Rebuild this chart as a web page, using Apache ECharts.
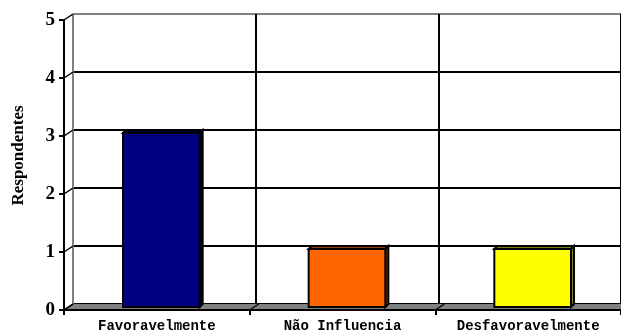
<!DOCTYPE html>
<html>
<head>
<meta charset="utf-8">
<script src="https://cdn.jsdelivr.net/npm/echarts@6/dist/echarts.min.js"></script>
<style>
  html, body { margin: 0; padding: 0; background: #fff; }
  #chart { width: 621px; height: 333px; }
</style>
</head>
<body>
<div id="chart"></div>
<script>
// Data
const categories = ['Favoravelmente', 'Não Influencia', 'Desfavoravelmente'];
const respondentes = [3, 1, 1];
const yTicks = [0, 1, 2, 3, 4, 5];

// Styling
const faceColors = ['#000080', '#FF6600', '#FFFF00'];
const sideColors = ['#000040', '#993D00', '#808000'];
const WALL = [9, -6];       // offset of the back wall from the front plane
const BAR_SHIFT = [4.5, -3]; // columns stand half-way into the floor
const BAR_DEPTH = [3, -3];   // visible thickness of each column
const BAR_RATIO = 0.413;     // column width as a share of the category band

const chart = echarts.init(document.getElementById('chart'), null, { renderer: 'canvas' });

// Floor plus the slanted ticks joining the front axes to the back wall
function renderFrame(params, api) {
  const cs = params.coordSys;
  const bandW = api.size([1, 0])[0];
  const y0 = cs.y + cs.height;
  const children = [];
  children.push({
    type: 'polygon',
    shape: { points: [
      [cs.x, y0], [cs.x + cs.width, y0],
      [cs.x + cs.width + WALL[0], y0 + WALL[1]], [cs.x + WALL[0], y0 + WALL[1]]
    ] },
    style: { fill: '#808080' }
  });
  yTicks.forEach(function (v) {
    const yv = api.coord([0, v])[1];
    children.push({
      type: 'line',
      shape: { x1: cs.x, y1: yv, x2: cs.x + WALL[0], y2: yv + WALL[1] },
      style: { stroke: '#000', lineWidth: 1.5 }
    });
  });
  for (let i = 0; i <= categories.length; i++) {
    const xb = cs.x + i * bandW;
    children.push({
      type: 'line',
      shape: { x1: xb, y1: y0, x2: xb + WALL[0], y2: y0 + WALL[1] },
      style: { stroke: '#000', lineWidth: 1.5 }
    });
  }
  return { type: 'group', children: children };
}

// Columns with a front face, a top and a right side
function renderColumn(params, api) {
  const i = api.value(0);
  const v = api.value(1);
  const top = api.coord([i, v]);
  const base = api.coord([i, 0]);
  const bw = api.size([1, 0])[0] * BAR_RATIO;
  const l = top[0] - bw / 2 + BAR_SHIFT[0];
  const r = l + bw;
  const t = top[1] + BAR_SHIFT[1];
  const b = base[1] + BAR_SHIFT[1];
  const dx = BAR_DEPTH[0], dy = BAR_DEPTH[1];
  const stroke = { stroke: '#000', lineWidth: 2, lineJoin: 'miter' };
  return {
    type: 'group',
    children: [
      { type: 'polygon', shape: { points: [[l, t], [l + dx, t + dy], [r + dx, t + dy], [r, t]] },
        style: Object.assign({ fill: sideColors[i] }, stroke) },
      { type: 'polygon', shape: { points: [[r, t], [r + dx, t + dy], [r + dx, b + dy], [r, b]] },
        style: Object.assign({ fill: sideColors[i] }, stroke) },
      { type: 'rect', shape: { x: l, y: t, width: bw, height: b - t },
        style: Object.assign({ fill: faceColors[i] }, stroke) }
    ]
  };
}

const option = {
  animation: false,
  backgroundColor: '#fff',
  grid: [
    { left: 64, top: 20, width: 560, height: 290 },
    { left: 64 + WALL[0], top: 20 + WALL[1], width: 560, height: 290 }
  ],
  xAxis: [
    {
      gridIndex: 0, type: 'category', data: categories, z: 5,
      axisLine: { lineStyle: { color: '#000', width: 2 } },
      axisTick: { show: true, length: 5, lineStyle: { color: '#000', width: 2 } },
      axisLabel: {
        color: '#000', fontFamily: 'Liberation Mono', fontWeight: 'bold',
        fontSize: 14, margin: 9, interval: 0
      },
      splitLine: { show: false }
    },
    {
      gridIndex: 1, type: 'category', data: categories,
      axisLine: { show: false }, axisTick: { show: false }, axisLabel: { show: false },
      splitLine: { show: true, lineStyle: { color: ['#808080', '#000', '#000', '#000'], width: 2 } }
    }
  ],
  yAxis: [
    {
      gridIndex: 0, type: 'value', min: 0, max: 5, interval: 1, z: 5,
      name: 'Respondentes', nameLocation: 'middle', nameGap: 37,
      nameTextStyle: {
        color: '#000', fontFamily: 'Liberation Serif', fontWeight: 'bold',
        fontSize: 17, padding: [0, 0, 0, 19]
      },
      axisLine: { show: true, lineStyle: { color: '#000', width: 2 } },
      axisTick: { show: true, length: 5, lineStyle: { color: '#000', width: 2 } },
      axisLabel: {
        color: '#000', fontFamily: 'Liberation Serif', fontWeight: 'bold',
        fontSize: 19, margin: 9
      },
      splitLine: { show: false }
    },
    {
      gridIndex: 1, type: 'value', min: 0, max: 5, interval: 1,
      axisLine: { show: false }, axisTick: { show: false }, axisLabel: { show: false },
      splitLine: { show: true, lineStyle: { color: ['#000', '#000', '#000', '#000', '#000', '#808080'], width: 2 } }
    }
  ],
  series: [
    {
      type: 'custom', xAxisIndex: 0, yAxisIndex: 0, z: 1,
      renderItem: renderFrame, data: [[0, 0]], silent: true
    },
    {
      type: 'custom', xAxisIndex: 0, yAxisIndex: 0, z: 2,
      renderItem: renderColumn,
      data: respondentes.map(function (v, i) { return [i, v]; })
    }
  ]
};

chart.setOption(option);
</script>
</body>
</html>
